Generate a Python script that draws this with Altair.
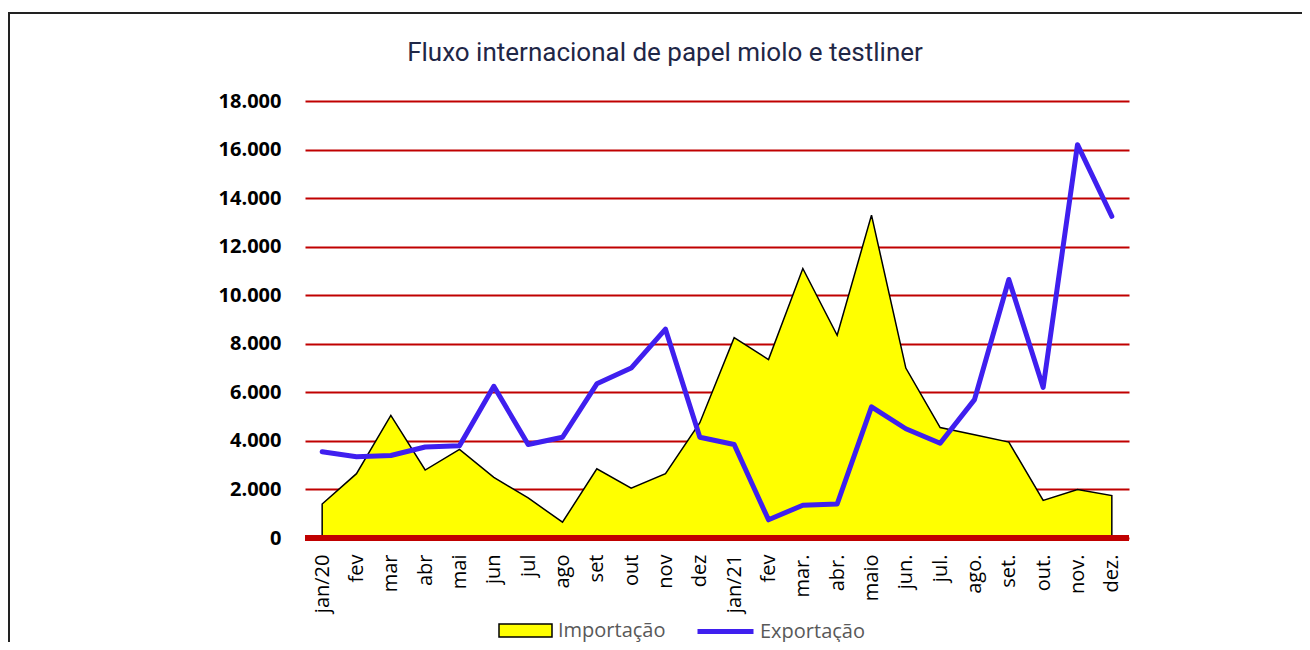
import altair as alt
import pandas as pd

months = ["jan/20", "fev", "mar", "abr", "mai", "jun", "jul", "ago", "set", "out", "nov", "dez",
          "jan/21", "fev", "mar.", "abr.", "maio", "jun.", "jul.", "ago.", "set.", "out.", "nov.", "dez."]
importacao = [1400, 2650, 5050, 2800, 3650, 2500, 1650, 650, 2850, 2050, 2650, 4750,
              8250, 7350, 11100, 8350, 13300, 7000, 4550, 4250, 3950, 1550, 2000, 1750]
exportacao = [3550, 3350, 3400, 3750, 3800, 6250, 3850, 4150, 6350, 7000, 8600, 4150,
              3850, 750, 1350, 1400, 5400, 4500, 3900, 5700, 10650, 6200, 16200, 13250]
series_names = ["Importação", "Exportação"]
y_ticks = list(range(0, 18001, 2000))

df = pd.DataFrame({
    "i": list(range(len(months))),
    "mes": months,
    "imp": importacao,
    "exp": exportacao,
    "s_imp": series_names[0],
    "s_exp": series_names[1],
})

label_expr = "[" + ",".join("'" + m + "'" for m in months) + "][datum.value]"

W, H = 824, 437
PAD = {"left": 297, "top": 93, "right": 1294 - 297 - W, "bottom": 634 - 93 - H}

x_enc = alt.X("i:O", scale=alt.Scale(type="point", padding=0.5),
              axis=alt.Axis(title=None, labelExpr=label_expr, labelAngle=-90, ticks=False, tickSize=0,
                            domain=False, grid=False, labelPadding=16, labelFont="Open Sans",
                            labelFontSize=20, labelColor="black"))
y_scale = alt.Scale(domain=[0, 18000], nice=False)

frame = alt.Chart(pd.DataFrame({"a": [0]})).mark_rect(
    fill="transparent", stroke="#222222", strokeWidth=2
).encode(x=alt.value(-296), x2=alt.value(1100), y=alt.value(-88), y2=alt.value(700))

area = alt.Chart(df).mark_area(stroke="black", strokeWidth=1.5, interpolate="linear").encode(
    x=x_enc,
    y=alt.Y("imp:Q", scale=y_scale,
            axis=alt.Axis(title=None, values=y_ticks,
                          labelExpr="replace(format(datum.value, ','), ',', '.')",
                          domain=False, ticks=False, tickSize=0, labelPadding=24,
                          labelFont="Open Sans", labelFontWeight="bold", labelFontSize=20,
                          labelColor="black", grid=True, gridColor="#c00000", gridWidth=2)),
    fill=alt.Fill("s_imp:N", scale=alt.Scale(domain=[series_names[0]], range=["#ffff00"]),
                  legend=alt.Legend(title=None, orient="none", legendX=193, legendY=502,
                                    symbolType="M-1,-0.245H1V0.245H-1Z", symbolSize=2809,
                                    symbolStrokeColor="black", symbolStrokeWidth=1.5,
                                    symbolOpacity=1, symbolFillColor="#ffff00",
                                    labelFont="Open Sans", labelFontSize=20, labelColor="#595959",
                                    labelOffset=5)),
)

zero = alt.Chart(df).mark_rule(color="#c00000", strokeWidth=4.5).encode(y=alt.datum(0))

line = alt.Chart(df).mark_line(strokeWidth=5, strokeCap="round", strokeJoin="round").encode(
    x=x_enc,
    y=alt.Y("exp:Q", scale=y_scale),
    stroke=alt.Stroke("s_exp:N", scale=alt.Scale(domain=[series_names[1]], range=["#3f1fef"]),
                      legend=alt.Legend(title=None, orient="none", legendX=390, legendY=500,
                                        symbolType="stroke", symbolSize=3136, symbolStrokeWidth=5,
                                        labelFont="Open Sans", labelFontSize=20, labelColor="#595959",
                                        labelOffset=4)),
)

chart = alt.layer(frame, area, zero, line).resolve_scale(y="shared").properties(
    width=W, height=H,
    autosize=alt.AutoSizeParams(type="none"),
    padding=PAD,
    title=alt.Title("Fluxo internacional de papel miolo e testliner", font="Roboto", fontSize=26,
                    fontWeight="normal", color="#1f2747", anchor="middle", dx=-52, dy=105, offset=30,
                    baseline="alphabetic"),
).configure_view(stroke=None)

chart.save("out.html", embed_options={"renderer": "svg", "actions": False})
